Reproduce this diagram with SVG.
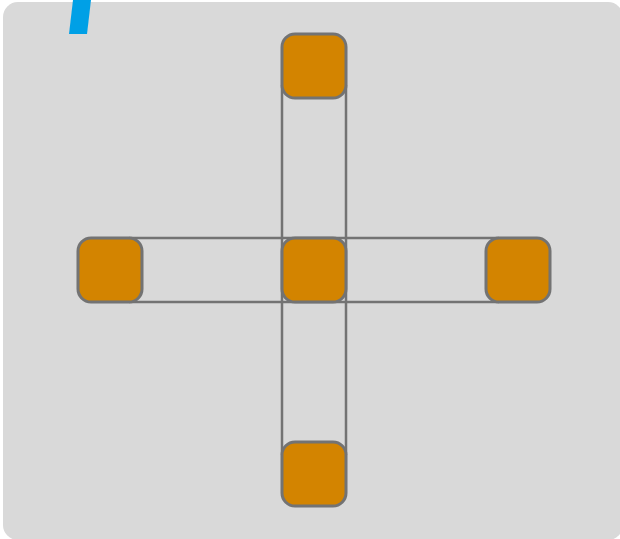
<svg xmlns="http://www.w3.org/2000/svg" width="620" height="539" viewBox="0 0 620 539">
<style>
.node{fill:#d38400;stroke:#737373;stroke-width:3}
.edge{stroke:#737373;stroke-width:2.5;fill:none}
</style>
<rect x="3" y="2" width="620" height="538" rx="15" fill="#d9d9d9"/>
<polygon points="73,0 91,0 87,34 69,34" fill="#00a0e6"/>
<g id="connectors">
<line class="edge" x1="282" y1="85" x2="282" y2="455"/>
<line class="edge" x1="346" y1="85" x2="346" y2="455"/>
<line class="edge" x1="129" y1="238" x2="499" y2="238"/>
<line class="edge" x1="129" y1="302" x2="499" y2="302"/>
</g>
<g id="node-top"><rect class="node" x="282" y="34" width="64" height="64" rx="13"/></g>
<g id="node-left"><rect class="node" x="78" y="238" width="64" height="64" rx="13"/></g>
<g id="node-center"><rect class="node" x="282" y="238" width="64" height="64" rx="13"/></g>
<g id="node-right"><rect class="node" x="486" y="238" width="64" height="64" rx="13"/></g>
<g id="node-bottom"><rect class="node" x="282" y="442" width="64" height="64" rx="13"/></g>
</svg>
